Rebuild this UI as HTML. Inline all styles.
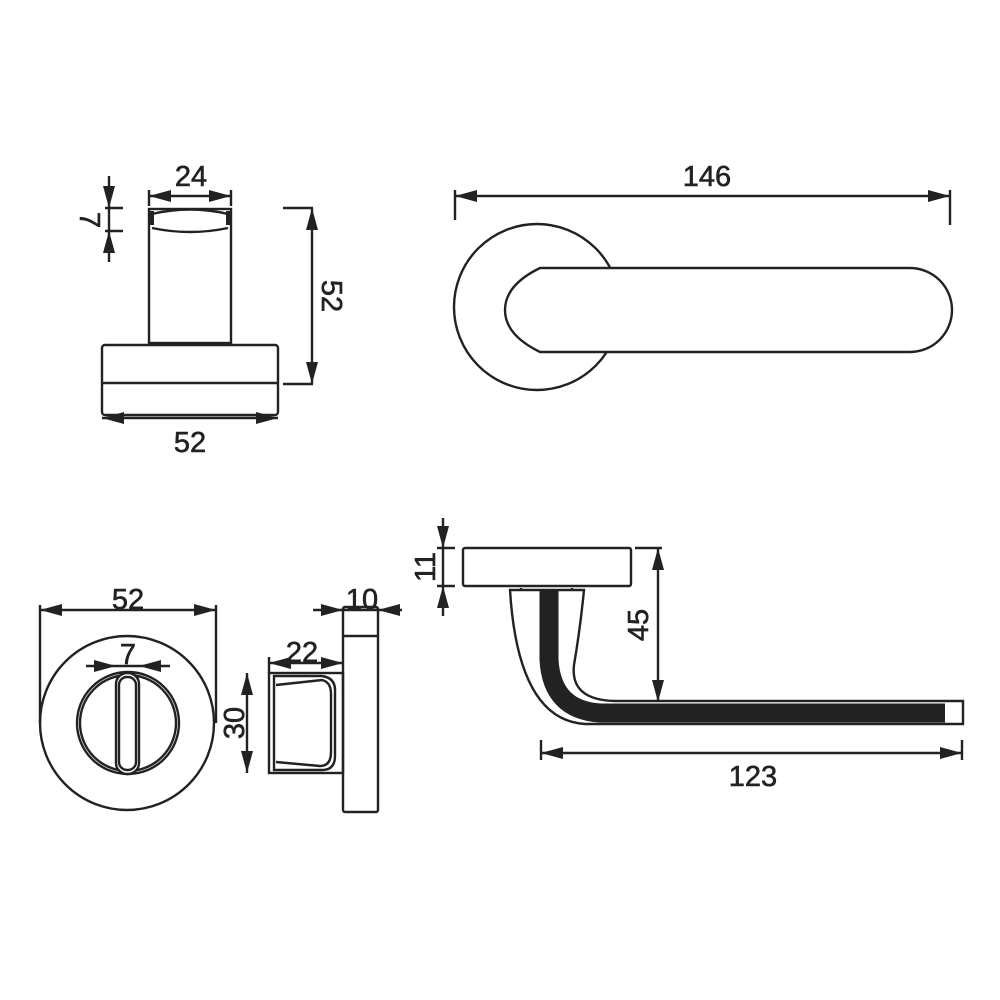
<!DOCTYPE html>
<html><head><meta charset="utf-8"><style>html,body{margin:0;padding:0;background:#fff}svg{display:block}</style></head>
<body>
<svg width="1000" height="1000" viewBox="0 0 1000 1000" xmlns="http://www.w3.org/2000/svg" font-family="Liberation Sans, Arial, sans-serif" font-size="29" fill="none" stroke="#222" stroke-width="2.4">
<defs>
<marker id="a" viewBox="0 0 22 12" refX="22" refY="6" markerWidth="22" markerHeight="12" markerUnits="userSpaceOnUse" orient="auto-start-reverse"><path d="M0,0 L22,6 L0,12 z" fill="#222" stroke="none"/></marker>
<pattern id="dots" width="5" height="5" patternUnits="userSpaceOnUse"><rect width="5" height="5" fill="#2a2a2a"/><rect x="2" y="2" width="1.3" height="1.3" fill="#ddd"/></pattern>
</defs>
<g fill="#222" stroke="#222" stroke-width="0.6">
<text x="191" y="186" text-anchor="middle">24</text>
<text transform="translate(80,220) rotate(90)" text-anchor="middle">7</text>
<text transform="translate(322,296) rotate(90)" text-anchor="middle">52</text>
<text x="190" y="452" text-anchor="middle">52</text>
<text x="707" y="186" text-anchor="middle">146</text>
<text x="128" y="609" text-anchor="middle">52</text>
<text x="128" y="664" text-anchor="middle">7</text>
<text x="362" y="609" text-anchor="middle">10</text>
<text x="302" y="662" text-anchor="middle">22</text>
<text transform="translate(244,723) rotate(-90)" text-anchor="middle">30</text>
<text transform="translate(435,567) rotate(-90)" text-anchor="middle">11</text>
<text transform="translate(648,625) rotate(-90)" text-anchor="middle">45</text>
<text x="753" y="786" text-anchor="middle">123</text>
</g>

<!-- top left -->
<rect x="149" y="209" width="82" height="134"/>
<path d="M152,214 Q190,205 228,214 M152,228 Q190,236 228,228"/>
<rect x="149" y="211" width="5" height="14" fill="#222" stroke="none"/>
<rect x="226" y="211" width="5" height="14" fill="url(#dots)" stroke="none"/>
<rect x="102" y="345" width="176" height="70" rx="3"/>
<line x1="102" y1="383" x2="278" y2="383"/>
<line x1="149" y1="196" x2="231" y2="196" marker-start="url(#a)" marker-end="url(#a)"/>
<line x1="149" y1="190" x2="149" y2="206"/><line x1="231" y1="190" x2="231" y2="206"/>
<line x1="109" y1="176" x2="109" y2="208" marker-end="url(#a)"/>
<line x1="109" y1="262" x2="109" y2="231" marker-end="url(#a)"/>
<line x1="109" y1="208" x2="109" y2="231"/>
<line x1="105" y1="208" x2="123" y2="208"/><line x1="105" y1="231" x2="123" y2="231"/>
<line x1="312" y1="208" x2="312" y2="384" marker-start="url(#a)" marker-end="url(#a)"/>
<line x1="283" y1="208" x2="313" y2="208"/><line x1="283" y1="384" x2="313" y2="384"/>
<line x1="102" y1="418" x2="278" y2="418" marker-start="url(#a)" marker-end="url(#a)"/>

<!-- top right -->
<circle cx="537" cy="307" r="83"/>
<path d="M540,268 L910,268 A42,42 0 0 1 910,352 L540,352 Q505,335 505,310 Q505,285 540,268 Z" fill="#fff"/>
<line x1="455" y1="196" x2="950" y2="196" marker-start="url(#a)" marker-end="url(#a)"/>
<line x1="455" y1="190" x2="455" y2="220"/><line x1="950" y1="190" x2="950" y2="225"/>

<!-- bottom left -->
<circle cx="127" cy="723" r="87"/>
<circle cx="128" cy="723" r="51"/>
<circle cx="128" cy="723" r="48"/>
<rect x="116" y="673" width="23" height="101" rx="11" fill="#fff"/>
<rect x="119" y="677" width="17" height="93" rx="8"/>
<line x1="40" y1="610" x2="216" y2="610" marker-start="url(#a)" marker-end="url(#a)"/>
<line x1="40" y1="605" x2="40" y2="723"/><line x1="216" y1="605" x2="216" y2="723"/>
<line x1="86" y1="666" x2="116" y2="666" marker-end="url(#a)"/>
<line x1="170" y1="666" x2="139" y2="666" marker-end="url(#a)"/>
<line x1="116" y1="666" x2="139" y2="666"/>

<!-- side view -->
<rect x="343" y="607" width="35" height="205" rx="2"/>
<line x1="343" y1="636" x2="378" y2="636"/>
<line x1="313" y1="610" x2="343" y2="610" marker-end="url(#a)"/>
<line x1="402" y1="610" x2="378" y2="610" marker-end="url(#a)"/>
<line x1="343" y1="610" x2="378" y2="610"/>
<rect x="269" y="673" width="74" height="100"/>
<path d="M274,676 L322,676 Q336,678 335,692 L335,756 Q335,770 322,770 L274,770 Z"/>
<path d="M276,685 L322,680 Q331,682 331,694 L331,752 Q331,766 320,766 L276,762"/>
<line x1="269" y1="663" x2="343" y2="663" marker-start="url(#a)" marker-end="url(#a)"/>
<line x1="269" y1="657" x2="269" y2="673"/>
<line x1="247" y1="673" x2="247" y2="773" marker-start="url(#a)" marker-end="url(#a)"/>

<!-- bottom right -->
<rect x="463" y="548" width="168" height="38" rx="2"/>
<line x1="443" y1="518" x2="443" y2="548" marker-end="url(#a)"/>
<line x1="443" y1="616" x2="443" y2="586" marker-end="url(#a)"/>
<line x1="443" y1="548" x2="443" y2="586"/>
<line x1="437" y1="548" x2="455" y2="548"/><line x1="437" y1="586" x2="455" y2="586"/>
<path d="M510,590 L584,590 Q580,630 574,665 Q570,700 615,701 L963,701 L963,724 L585,724 Q518,720 510,590 Z"/>
<line x1="521" y1="588" x2="521" y2="590"/><line x1="572" y1="588" x2="572" y2="590"/>
<path d="M549,590 L549,660 Q552,710 600,713 L945,713" stroke="url(#dots)" stroke-width="19"/>
<line x1="658" y1="548" x2="658" y2="702" marker-start="url(#a)" marker-end="url(#a)"/>
<line x1="635" y1="548" x2="662" y2="548"/>
<line x1="541" y1="753" x2="962" y2="753" marker-start="url(#a)" marker-end="url(#a)"/>
<line x1="541" y1="740" x2="541" y2="760"/><line x1="962" y1="740" x2="962" y2="760"/>
</svg>
</body></html>
